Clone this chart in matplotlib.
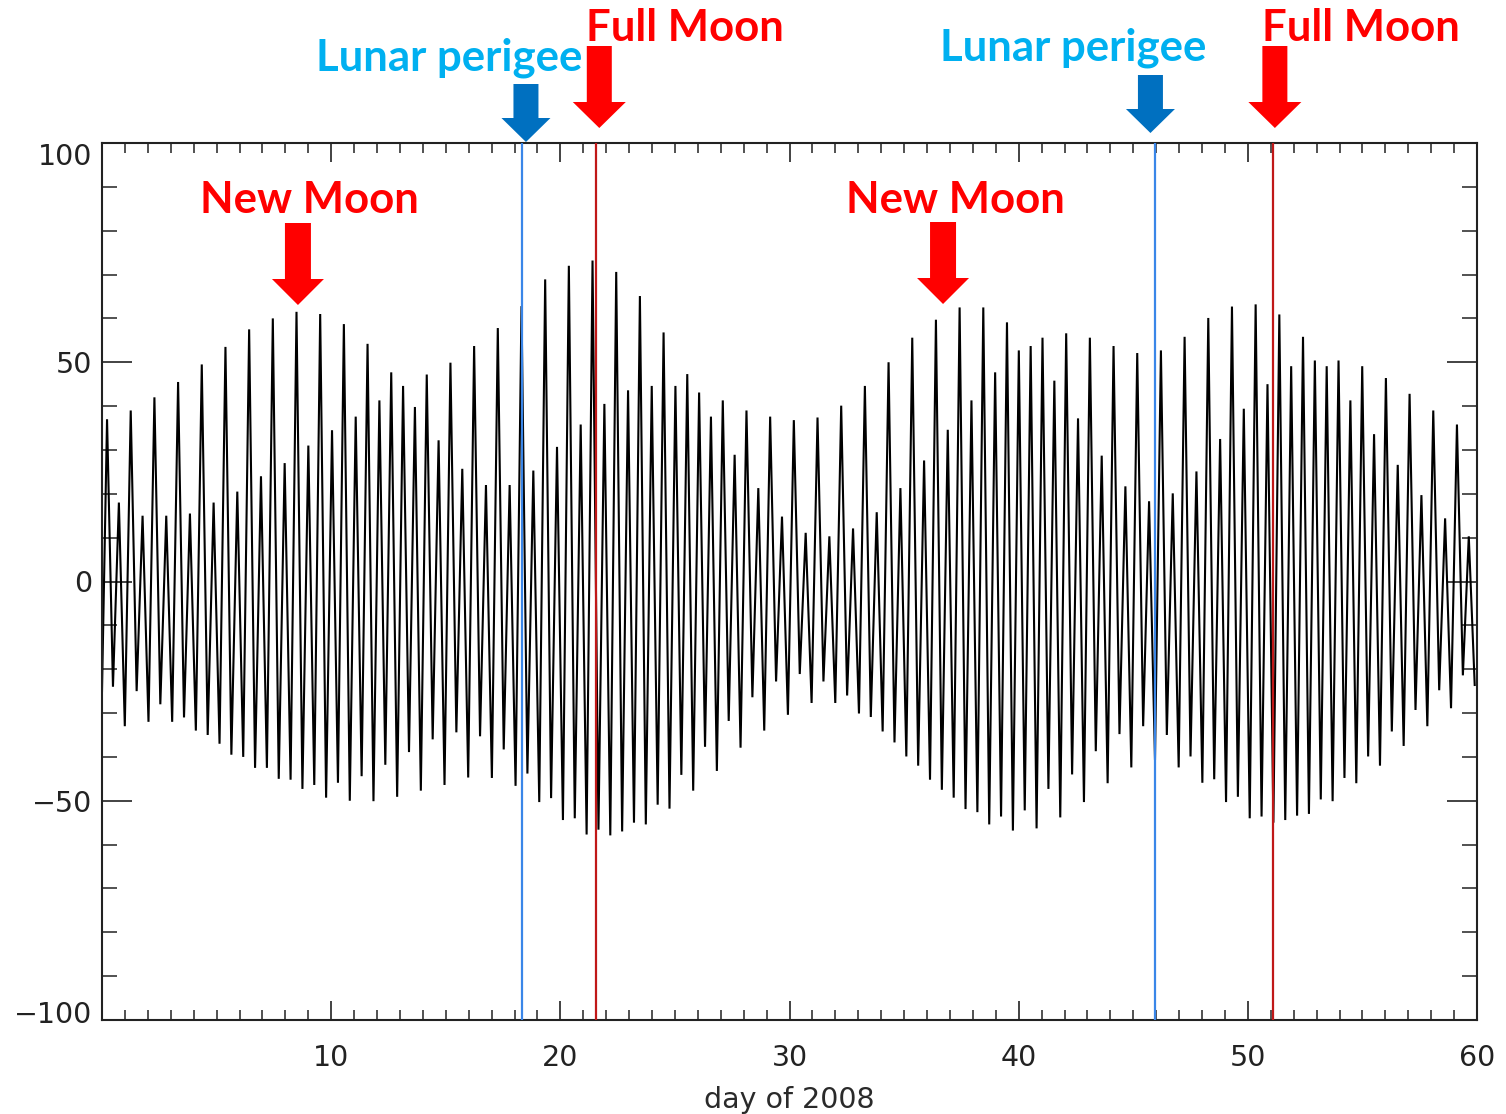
import numpy as np
import matplotlib
matplotlib.use("Agg")
import matplotlib.pyplot as plt
from matplotlib.patches import Polygon
from matplotlib.transforms import ScaledTranslation

# ---- tide record: successive high and low water levels (one pair per semidiurnal cycle)
high_water = [
    37, 18, 39, 15, 42, 15, 45.5, 15.5, 49.5, 18, 53.5, 20.5, 57.5, 24, 60,
    27, 61.5, 31, 61, 34.5, 58.7, 37.6, 54.2, 41.3, 47.7, 44.6, 39.8, 47.2, 32.2, 49.9,
    25.7, 53.7, 22, 57.8, 22, 62.8, 25.3, 68.9, 30.7, 72, 35.8, 73.2, 40.5, 70.6,
    43.6, 65.1, 44.6, 56.8, 44.6, 47.3, 43.1, 37.6, 41.3, 28.9, 39, 21.3, 37.6, 14.8,
    36.8, 11.1, 37.4, 10.3, 40.1, 12.1, 44.6, 15.8, 50, 21.3, 55.6, 27.6, 59.7, 34.6, 62.5,
    41.3, 62.5, 47.7, 59.1, 52.7, 53.7, 55.6, 45.8, 56.6, 37.2, 55.6, 28.7, 53.7, 21.7,
    52.1, 18.3, 52.7, 20.1, 55.8, 25.1, 60.1, 32.5, 62.7, 39.4, 63.2, 45, 60.9, 49.1,
    55.8, 50.4, 49.1, 50.4, 41.3, 49.1, 33.6, 46.4, 26.6, 42.8, 19.7, 39, 14.4, 35.8, 10.3,
]
low_water = [
    -24, -33, -25, -32, -28, -32, -31, -34, -35, -37, -39.5, -40, -42.5, -42.5, -45,
    -45.2, -47.3, -46.4, -49.3, -45.9, -50, -44.4, -50.1, -41.8, -49.1, -38.9, -47.7, -36, -46.4,
    -34.4, -44.7, -35.3, -44.8, -38.3, -46.6, -43.8, -50.3, -49.4, -54.4, -54, -57.7, -56.6, -57.9,
    -57, -55, -55.4, -50.9, -51.8, -44.1, -47.7, -37.7, -43.2, -31.8, -37.9, -26.4, -34, -22.8, -30.4,
    -21.1, -27.7, -22.8, -27.7, -26, -30.1, -30.9, -34.2, -36.7, -39.9, -42, -45.2, -47.5, -49.3,
    -51.9, -52.6, -55.4, -53.6, -56.8, -52.2, -56.3, -47.3, -53.8, -44, -50.3, -38.7, -46, -34.8,
    -42.4, -33, -40.7, -35, -42.4, -39.9, -45.9, -45.1, -50.3, -49.1, -54, -53.6, -55, -54.4,
    -53.4, -53, -49.7, -50.1, -44.8, -46, -39.9, -42, -34.2, -37.5, -29.3, -33, -24.8, -28.9, -21.4, -23.6,
]
record_start = (0.0, -25.0)          # (day, level) at the start of the record
first_high_day = 0.22
last_low_day = 59.9

# ---- lunar events (day of 2008)
perigee_days = [18.33, 45.94]
full_moon_days = [21.55, 51.09]
new_moon_days = [8.55, 36.7]

# ---- axes
x_major = [10, 20, 30, 40, 50, 60]
y_major = [-100, -50, 0, 50, 100]
x_label = "day of 2008"

# ------------------------------------------------------------------
W, H = 1506, 1114
fig = plt.figure(figsize=(W / 100, H / 100), dpi=100)
fig.patch.set_facecolor("white")
ax = fig.add_axes([102 / W, 1 - 1020 / H, 1375 / W, 877 / H])

n = len(high_water) + len(low_water)
t = np.linspace(first_high_day, last_low_day, n)
levels = np.empty(n)
levels[0::2] = high_water
levels[1::2] = low_water
t = np.concatenate([[record_start[0]], t])
levels = np.concatenate([[record_start[1]], levels])

ax.plot(t, levels, color="black", lw=1.5, solid_joinstyle="miter", zorder=2)

for d in perigee_days:
    ax.axvline(d, color="#3a86e8", lw=1.6, zorder=3)
for d in full_moon_days:
    ax.axvline(d, color="#c01818", lw=1.6, zorder=3)

ax.set_xlim(0, 60)
ax.set_ylim(-100, 100)
ax.set_xticks(x_major)
ax.set_xticks(np.arange(0, 61, 1), minor=True)
ax.set_yticks(y_major)
ax.set_yticks(np.arange(-100, 101, 10), minor=True)

tick_font = {"family": "DejaVu Sans", "size": 20.5}
ax.set_xticklabels([str(v) for v in x_major], fontdict=tick_font, color="#2a2a2a")
ax.set_yticklabels([str(v).replace("-", "\u2212") for v in y_major], fontdict=tick_font, color="#2a2a2a")

ax.tick_params(axis="x", which="major", direction="in", length=14, width=1.2,
               top=True, bottom=True, pad=17, colors="#222222")
ax.tick_params(axis="x", which="minor", direction="in", length=7, width=1.1,
               top=True, bottom=True, colors="#222222")
ax.tick_params(axis="y", which="major", direction="in", length=21.5, width=1.2,
               left=True, right=True, pad=7, colors="#222222")
ax.tick_params(axis="y", which="minor", direction="in", length=11, width=1.1,
               left=True, right=True, colors="#222222")
for s in ax.spines.values():
    s.set_linewidth(1.5)
    s.set_color("#222222")

# end labels on the value axis sit just inside the frame
ylabels = ax.get_yticklabels()
ylabels[0].set_transform(ylabels[0].get_transform() + ScaledTranslation(0, 8 / 100, fig.dpi_scale_trans))
ylabels[-1].set_transform(ylabels[-1].get_transform() + ScaledTranslation(0, -11 / 100, fig.dpi_scale_trans))

ax.set_xlabel(x_label, fontdict=tick_font, color="#2a2a2a", labelpad=10)

# ---- overlay in pixel units for the event markers
ov = fig.add_axes([0, 0, 1, 1], zorder=5)
ov.set_xlim(0, W)
ov.set_ylim(H, 0)
ov.axis("off")
ov.patch.set_alpha(0)


def day_to_px(day):
    return ax.transData.transform((day, 0))[0]


def down_arrow(xc, top, tip, shaft_w, head_w, head_len, color):
    base = tip - head_len
    pts = [(xc - shaft_w / 2, top), (xc + shaft_w / 2, top), (xc + shaft_w / 2, base),
           (xc + head_w / 2, base), (xc, tip), (xc - head_w / 2, base),
           (xc - shaft_w / 2, base)]
    ov.add_patch(Polygon(pts, closed=True, facecolor=color, edgecolor="none"))


label_font = {"family": "Lato", "weight": "bold", "size": 31.5}
RED = "#ff0000"
CYAN = "#00b0f0"
BLUE = "#0070c0"

# arrow anchors (day), arrow top/tip rows (px), label baseline rows (px)
perigee_marks = [(18.5, 84, 142, 71), (45.75, 75, 133, 61)]
full_moon_marks = [(21.7, 46, 128, 41), (51.18, 46, 128, 41)]
new_moon_marks = [(8.55, 223, 305, 213), (36.7, 222, 304, 213)]

for (d, top, tip, base) in perigee_marks:
    x = day_to_px(d)
    down_arrow(x, top, tip, 25, 49, 24, BLUE)
    ov.text(x + 56, base, "Lunar perigee", color=CYAN, ha="right", va="baseline", fontdict=label_font)

for (d, top, tip, base) in full_moon_marks:
    x = day_to_px(d)
    down_arrow(x, top, tip, 25, 53, 26, RED)
    ov.text(x - 13, base, "Full Moon", color=RED, ha="left", va="baseline", fontdict=label_font)

for (d, top, tip, base) in new_moon_marks:
    x = day_to_px(d)
    down_arrow(x, top, tip, 26, 52, 26, RED)
    ov.text(x + 12, base, "New Moon", color=RED, ha="center", va="baseline", fontdict=label_font)

fig.savefig("out.png", dpi=100)
